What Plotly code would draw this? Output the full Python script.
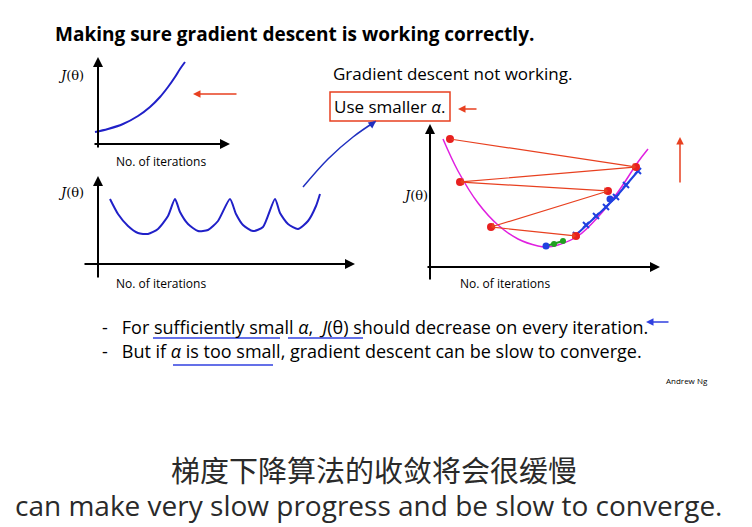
import plotly.graph_objects as go

exp_x = [97, 110, 125, 140, 152, 162, 170, 177, 182, 187]
exp_y = [133, 130, 125, 117, 108, 98, 88, 78, 70, 63]
scal_x = [112, 120, 130, 140, 150, 160, 170, 177, 182, 190, 200, 210, 220, 232, 238, 245, 255, 265, 277, 282, 290, 300, 310, 318, 322]
scal_y = [200, 215, 227, 234, 235, 230, 217, 200, 213, 225, 232, 231, 222, 200, 215, 226, 232, 228, 200, 214, 225, 230, 222, 207, 195]
par_x = [445, 460, 480, 500, 520, 540, 548, 560, 580, 600, 620, 640, 650]
par_y = [140, 172, 204, 226, 240, 247, 248, 246, 237, 218, 193, 163, 150]
red_x = [452, 638, 462, 610, 493, 578]
red_y = [140, 168, 183, 192, 228, 237]
blue_x = [640, 628, 618, 608, 598, 588, 578]
blue_y = [172, 186, 198, 208, 217, 226, 236]
green_x = [548, 556, 565]
green_y = [247, 245, 242]
link_x = [305, 330, 355, 378]
link_y = [188, 160, 138, 122]

fig = go.Figure()
fig.add_trace(go.Scatter(x=exp_x, y=exp_y, mode="lines", line=dict(color="#2020c8", width=2, shape="spline")))
fig.add_trace(go.Scatter(x=scal_x, y=scal_y, mode="lines", line=dict(color="#2020c8", width=2, shape="spline", smoothing=0.6)))
fig.add_trace(go.Scatter(x=par_x, y=par_y, mode="lines", line=dict(color="#e020e0", width=1.5, shape="spline")))
fig.add_trace(go.Scatter(x=link_x, y=link_y, mode="lines", line=dict(color="#2030c0", width=1.5, shape="spline")))
fig.add_trace(go.Scatter(x=blue_x, y=blue_y, mode="lines+markers", line=dict(color="#2040e0", width=2),
                         marker=dict(color="#2040e0", size=6, symbol="x-thin", line=dict(width=2, color="#2040e0"))))
fig.add_trace(go.Scatter(x=green_x, y=green_y, mode="lines+markers", line=dict(color="#20a020", width=2),
                         marker=dict(color="#20a020", size=6)))
fig.add_trace(go.Scatter(x=[612, 548], y=[200, 247], mode="markers", marker=dict(color="#2040e0", size=7)))
fig.add_trace(go.Scatter(x=red_x, y=red_y, mode="markers", marker=dict(color="#e82020", size=8)))

anns = []
def arrow(x0, y0, x1, y1, color="black", w=2, head=2):
    anns.append(dict(x=x1, y=y1, ax=x0, ay=y0, xref="x", yref="y", axref="x", ayref="y",
                     showarrow=True, arrowhead=head, arrowwidth=w, arrowcolor=color, text=""))
# axes
arrow(100, 150, 100, 58); arrow(95, 145, 232, 145)
arrow(100, 280, 100, 177); arrow(85, 265, 357, 265)
arrow(432, 282, 432, 125); arrow(428, 268, 662, 268)
# red oscillation arrows
for i in range(len(red_x) - 1):
    arrow(red_x[i], red_y[i], red_x[i+1], red_y[i+1], color="#e84020", w=1.2, head=1)
# annotation arrows
arrow(240, 95, 195, 95, color="#e84020", w=1.5)
arrow(480, 110, 460, 110, color="#e84020", w=1.5)
arrow(682, 185, 682, 138, color="#e84020", w=1.5)
arrow(672, 323, 648, 323, color="#3040e0", w=1.5)
arrow(370, 128, 378, 122, color="#2030c0", w=1.5)

def txt(x, y, s, size=13, bold=False, anchor="left", color="black", family="Open Sans"):
    anns.append(dict(x=x, y=y, xref="x", yref="y", text=f"<b>{s}</b>" if bold else s, showarrow=False,
                     xanchor=anchor, yanchor="middle", font=dict(size=size, color=color, family=family)))
txt(55, 35, "Making sure gradient descent is working correctly.", 19, True)
txt(58, 76, "<i>J</i>(θ)", 13, family="DejaVu Serif")
txt(116, 162, "No. of iterations", 12)
txt(58, 193, "<i>J</i>(θ)", 13, family="DejaVu Serif")
txt(116, 284, "No. of iterations", 12)
txt(333, 74, "Gradient descent not working.", 17)
txt(334, 107, "Use smaller <i>α</i>.", 17)
txt(402, 196, "<i>J</i>(θ)", 13, family="DejaVu Serif")
txt(460, 284, "No. of iterations", 12)
txt(102, 328, "-   For sufficiently small <i>α</i>,  <i>J</i>(θ) should decrease on every iteration.", 18)
txt(102, 352, "-   But if <i>α</i> is too small, gradient descent can be slow to converge.", 18)
txt(666, 381, "Andrew Ng", 8)
txt(376, 470, "梯度下降算法的收敛将会很缓慢", 29, anchor="center", color="#2a2a2a", family="Noto Sans CJK SC")
txt(370, 506, "can make very slow progress and be slow to converge.", 28, anchor="center", color="#2a2a2a")

shapes = [dict(type="rect", x0=332, y0=93, x1=452, y1=122, xref="x", yref="y", line=dict(color="#e84020", width=1.5)),
          dict(type="line", x0=155, y0=339, x1=282, y1=339, line=dict(color="#3040e0", width=1.5)),
          dict(type="line", x0=290, y0=339, x1=365, y1=339, line=dict(color="#3040e0", width=1.5)),
          dict(type="line", x0=175, y0=366, x1=275, y1=366, line=dict(color="#3040e0", width=1.5))]

fig.update_layout(width=752, height=527, margin=dict(l=0, r=0, t=0, b=0), showlegend=False,
                  plot_bgcolor="white", paper_bgcolor="white", annotations=anns, shapes=shapes,
                  xaxis=dict(range=[10, 762], visible=False, fixedrange=True),
                  yaxis=dict(range=[536, 9], visible=False, fixedrange=True))
fig.write_html("out.html")
